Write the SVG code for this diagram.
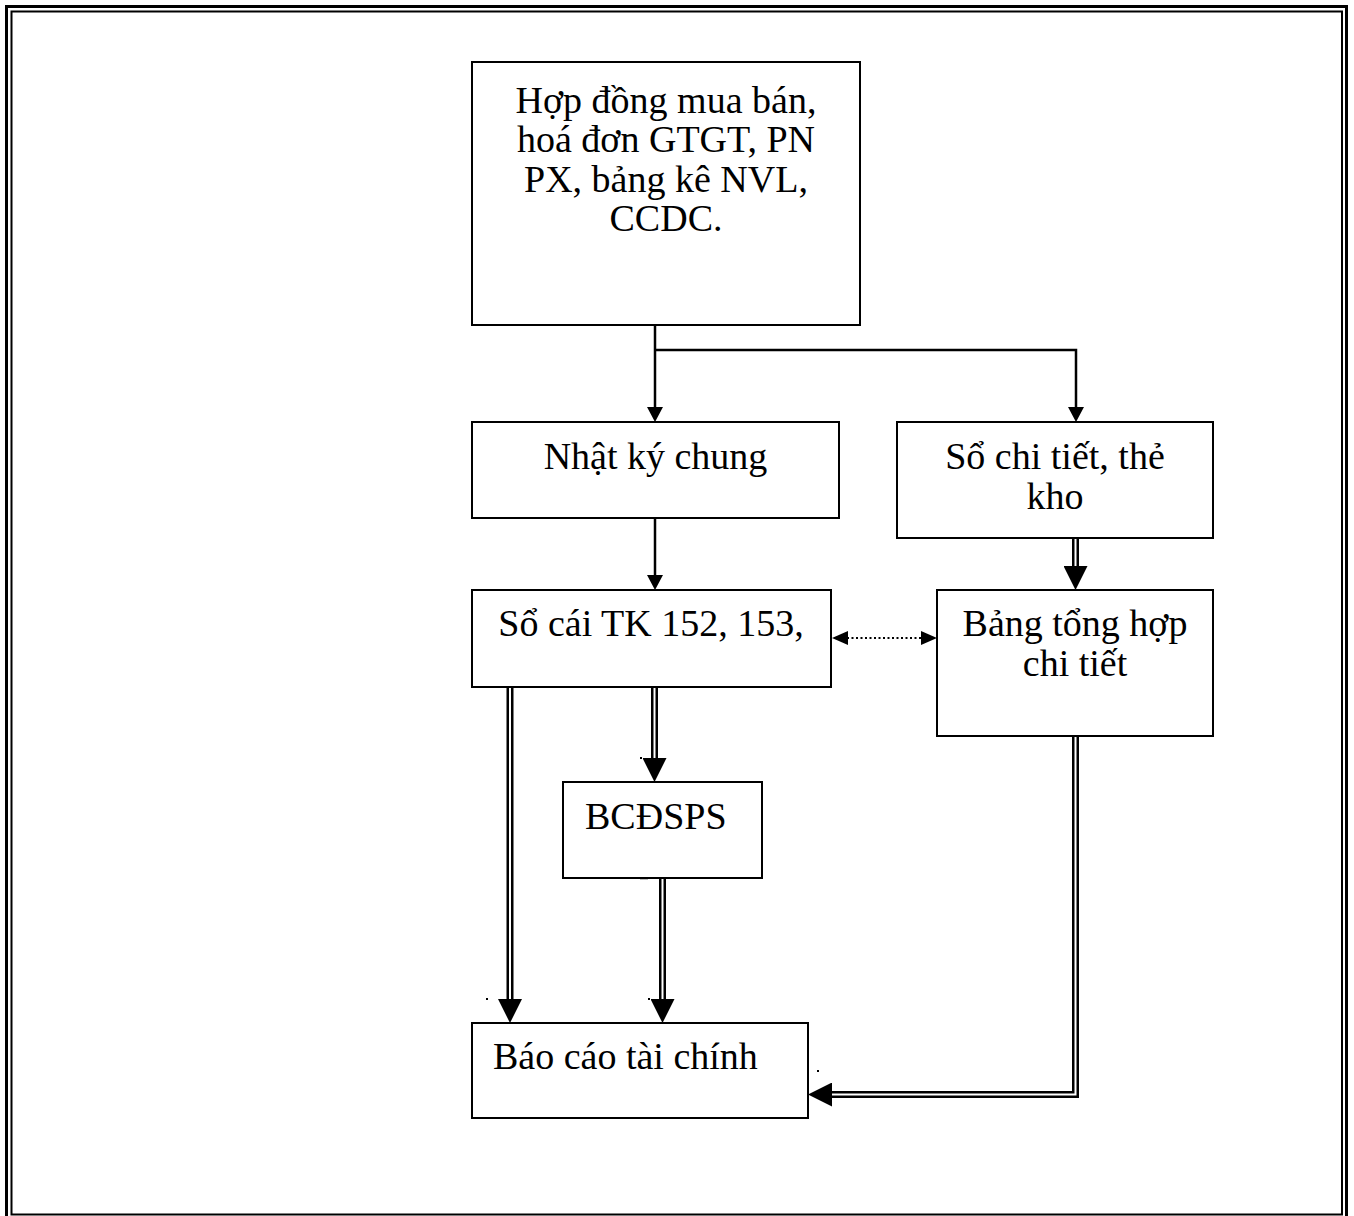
<svg xmlns="http://www.w3.org/2000/svg" width="1354" height="1216" viewBox="0 0 1354 1216">
  <style>
    .box { fill: #fff; stroke: #000; stroke-width: 2; }
    .lbl { font-family: "Liberation Serif", "Times New Roman", serif; font-size: 38px; fill: #000; }
    .mid { text-anchor: middle; }
    .single { fill: none; stroke: #000; stroke-width: 2.5; }
    .dbl-out { fill: none; stroke: #000; stroke-width: 7; stroke-linejoin: miter; }
    .dbl-in { fill: none; stroke: #fff; stroke-width: 2; stroke-linejoin: miter; }
    .dotted { fill: none; stroke: #000; stroke-width: 2; stroke-dasharray: 2 2.5; }
  </style>
  <defs>
    <marker id="arrow" viewBox="0 0 15 16" refX="0" refY="8" markerWidth="15" markerHeight="16" markerUnits="userSpaceOnUse" orient="auto">
      <path d="M0,0 L15,8 L0,16 z" fill="#000"/>
    </marker>
    <marker id="arrow-big" viewBox="0 0 24 24" refX="0" refY="12" markerWidth="24" markerHeight="24" markerUnits="userSpaceOnUse" orient="auto">
      <path d="M0,0 L24,12 L0,24 z" fill="#000"/>
    </marker>
  </defs>

  <rect width="1354" height="1216" fill="#fff"/>

  <!-- page frame (double rule) -->
  <g id="frame" fill="none">
    <rect x="6.5" y="6.5" width="1340" height="1220" stroke="#000" stroke-width="3"/>
    <rect x="11.5" y="11.5" width="1330.5" height="1203" stroke="#000" stroke-width="2"/>
  </g>

  <!-- connectors -->
  <g id="connectors">
    <path class="single" d="M655,325 V407" marker-end="url(#arrow)"/>
    <path class="single" d="M655,350 H1076 V407" marker-end="url(#arrow)"/>
    <path class="single" d="M655,518 V575" marker-end="url(#arrow)"/>

    <path class="dbl-out" d="M1075.5,538 V566" marker-end="url(#arrow-big)"/>
    <path class="dbl-in" d="M1075.5,538 V566"/>

    <path class="dbl-out" d="M654.5,687 V758" marker-end="url(#arrow-big)"/>
    <path class="dbl-in" d="M654.5,687 V758"/>

    <path class="dbl-out" d="M510,687 V999" marker-end="url(#arrow-big)"/>
    <path class="dbl-in" d="M510,687 V999"/>

    <path class="dbl-out" d="M662.5,878 V999" marker-end="url(#arrow-big)"/>
    <path class="dbl-in" d="M662.5,878 V999"/>

    <path class="dbl-out" d="M1075.5,736 V1094.5 H832" marker-end="url(#arrow-big)"/>
    <path class="dbl-in" d="M1075.5,736 V1094.5 H832"/>

    <!-- two-way dotted link between ledger and summary -->
    <path class="dotted" d="M847,638 H922"/>
    <path d="M832,638 L848,631 L848,645 z" fill="#000"/>
    <path d="M937,638 L921,631 L921,645 z" fill="#000"/>

    <!-- small stray marks -->
    <path d="M640,686.5 H657 M640,878.5 H648" stroke="#000" stroke-width="1.5"/>
    <g fill="#000">
      <rect x="640" y="757" width="2" height="2"/>
      <rect x="486" y="998" width="2" height="2"/>
      <rect x="648" y="998" width="2" height="2"/>
      <rect x="817" y="1070" width="2" height="2"/>
    </g>
  </g>

  <!-- nodes -->
  <g id="chung-tu">
    <rect class="box" x="472" y="62" width="388" height="263"/>
    <text class="lbl mid" x="666" y="113">Hợp đồng mua bán,</text>
    <text class="lbl mid" x="666" y="152">hoá đơn GTGT, PN</text>
    <text class="lbl mid" x="666" y="192">PX, bảng kê NVL,</text>
    <text class="lbl mid" x="666" y="231">CCDC.</text>
  </g>

  <g id="nhat-ky-chung">
    <rect class="box" x="472" y="422" width="367" height="96"/>
    <text class="lbl mid" x="655.5" y="469">Nhật ký chung</text>
  </g>

  <g id="so-chi-tiet">
    <rect class="box" x="897" y="422" width="316" height="116"/>
    <text class="lbl mid" x="1055" y="469">Sổ chi tiết, thẻ</text>
    <text class="lbl mid" x="1055" y="509">kho</text>
  </g>

  <g id="so-cai">
    <rect class="box" x="472" y="590" width="359" height="97"/>
    <text class="lbl mid" x="651" y="636">Sổ cái TK 152, 153,</text>
  </g>

  <g id="bang-tong-hop">
    <rect class="box" x="937" y="590" width="276" height="146"/>
    <text class="lbl mid" x="1075" y="636">Bảng tổng hợp</text>
    <text class="lbl mid" x="1075" y="676">chi tiết</text>
  </g>

  <g id="bcdsps">
    <rect class="box" x="563" y="782" width="199" height="96"/>
    <text class="lbl" x="585" y="829">BCĐSPS</text>
  </g>

  <g id="bao-cao-tai-chinh">
    <rect class="box" x="472" y="1023" width="336" height="95"/>
    <text class="lbl" x="493" y="1069">Báo cáo tài chính</text>
  </g>
</svg>
